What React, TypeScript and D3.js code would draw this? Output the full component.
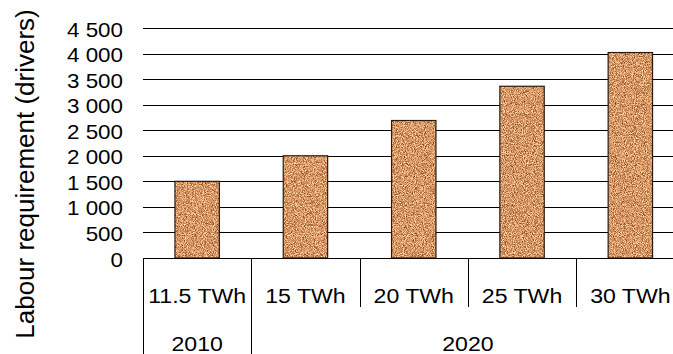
import React, { useEffect, useRef } from "react";
import * as d3 from "d3";

// values
const categories = ["11.5 TWh", "15 TWh", "20 TWh", "25 TWh", "30 TWh"];
const drivers = [1500, 2000, 2690, 3360, 4020];
const yearGroups = ["2010", "2020"];
const yearSpans = [1, 4];
const yTicks = [0, 500, 1000, 1500, 2000, 2500, 3000, 3500, 4000, 4500];

const W = 673;
const H = 354;
const FONT = "Liberation Sans, Arial, sans-serif";

export default function App() {
  const ref = useRef<SVGSVGElement | null>(null);

  useEffect(() => {
    const svg = d3.select(ref.current);
    svg.selectAll("*").remove();

    const left = 143;
    const bandW = 108.3;
    const top = 28;
    const bottom = 258;

    const x = d3
      .scaleBand()
      .domain(categories)
      .range([left, left + bandW * categories.length])
      .paddingInner(0)
      .paddingOuter(0);

    const y = d3.scaleLinear().domain([0, 4500]).range([bottom, top]);

    const fmt = d3
      .formatLocale({ decimal: ".", thousands: " ", grouping: [3], currency: ["", ""] })
      .format(",");

    // the source picture is a bit stretched sideways, so text is widened too
    const label = (
      g: d3.Selection<any, any, any, any>,
      tx: number,
      ty: number,
      s: string,
      size: number,
      anchor: string,
      sx: number
    ) =>
      g
        .append("text")
        .attr("transform", `translate(${tx},${ty}) scale(${sx},1)`)
        .attr("text-anchor", anchor)
        .attr("font-family", FONT)
        .attr("font-size", size)
        .attr("fill", "#000")
        .text(s);

    // cork texture
    const defs = svg.append("defs");
    const filter = defs
      .append("filter")
      .attr("id", "cork")
      .attr("x", 0)
      .attr("y", 0)
      .attr("width", 1)
      .attr("height", 1)
      .attr("color-interpolation-filters", "sRGB");
    filter
      .append("feTurbulence")
      .attr("type", "fractalNoise")
      .attr("baseFrequency", 1.1)
      .attr("numOctaves", 2)
      .attr("seed", 3)
      .attr("result", "noise");
    filter
      .append("feColorMatrix")
      .attr("in", "noise")
      .attr("type", "matrix")
      .attr(
        "values",
        "1.2 0 0 0 0.24  1.1 0 0 0 0.04  0.9 0 0 0 -0.05  0 0 0 0 1"
      )
      .attr("result", "tint");
    filter
      .append("feComposite")
      .attr("in", "tint")
      .attr("in2", "SourceGraphic")
      .attr("operator", "in");

    // gridlines
    svg
      .append("g")
      .selectAll("line")
      .data(yTicks.filter(d => d > 0))
      .enter()
      .append("line")
      .attr("x1", left)
      .attr("x2", W)
      .attr("y1", d => Math.round(y(d)) + 0.5)
      .attr("y2", d => Math.round(y(d)) + 0.5)
      .attr("stroke", "#000")
      .attr("stroke-width", 1);

    // y tick labels
    const yl = svg.append("g");
    yTicks.forEach(d => label(yl, 123, y(d) + 8.5, fmt(d), 20, "end", 1.12));

    // bars
    const bw = x.bandwidth() * 0.41;
    const bars = svg.append("g");
    bars
      .selectAll("rect.fill")
      .data(drivers)
      .enter()
      .append("rect")
      .attr("class", "fill")
      .attr("x", (d, i) => x(categories[i])! + (x.bandwidth() - bw) / 2)
      .attr("y", d => y(d))
      .attr("width", bw)
      .attr("height", d => bottom - y(d))
      .attr("fill", "#c8915e")
      .attr("filter", "url(#cork)");
    bars
      .selectAll("rect.edge")
      .data(drivers)
      .enter()
      .append("rect")
      .attr("class", "edge")
      .attr("x", (d, i) => x(categories[i])! + (x.bandwidth() - bw) / 2)
      .attr("y", d => y(d))
      .attr("width", bw)
      .attr("height", d => bottom - y(d))
      .attr("fill", "none")
      .attr("stroke", "#2a1a10")
      .attr("stroke-width", 1.2);

    // x axis line
    svg
      .append("line")
      .attr("x1", left)
      .attr("x2", W)
      .attr("y1", bottom + 0.5)
      .attr("y2", bottom + 0.5)
      .attr("stroke", "#000");

    // category labels and dividers
    const cat = svg.append("g");
    categories.forEach(d =>
      label(cat, x(d)! + x.bandwidth() / 2, 302.5, d, 21, "middle", 1.1)
    );

    cat
      .selectAll("line")
      .data(categories.slice(1))
      .enter()
      .append("line")
      .attr("x1", d => Math.round(x(d)!) + 0.5)
      .attr("x2", d => Math.round(x(d)!) + 0.5)
      .attr("y1", bottom)
      .attr("y2", 307)
      .attr("stroke", "#000");

    // year groups
    let start = 0;
    yearGroups.forEach((g, i) => {
      const x0 = x(categories[start])!;
      const x1 = x0 + x.bandwidth() * yearSpans[i];
      svg
        .append("line")
        .attr("x1", Math.round(x0) + 0.5)
        .attr("x2", Math.round(x0) + 0.5)
        .attr("y1", bottom)
        .attr("y2", H)
        .attr("stroke", "#000");
      label(svg, (x0 + x1) / 2, 350.5, g, 21, "middle", 1.1);
      start += yearSpans[i];
    });

    // y axis title
    svg
      .append("text")
      .attr("transform", `translate(34,174) rotate(-90)`)
      .attr("text-anchor", "middle")
      .attr("font-family", FONT)
      .attr("font-size", 26)
      .text("Labour requirement (drivers)");
  }, []);

  return (
    <svg
      ref={ref}
      width={W}
      height={H}
      style={{ position: "absolute", left: 0, top: 0, background: "#fff" }}
    />
  );
}
